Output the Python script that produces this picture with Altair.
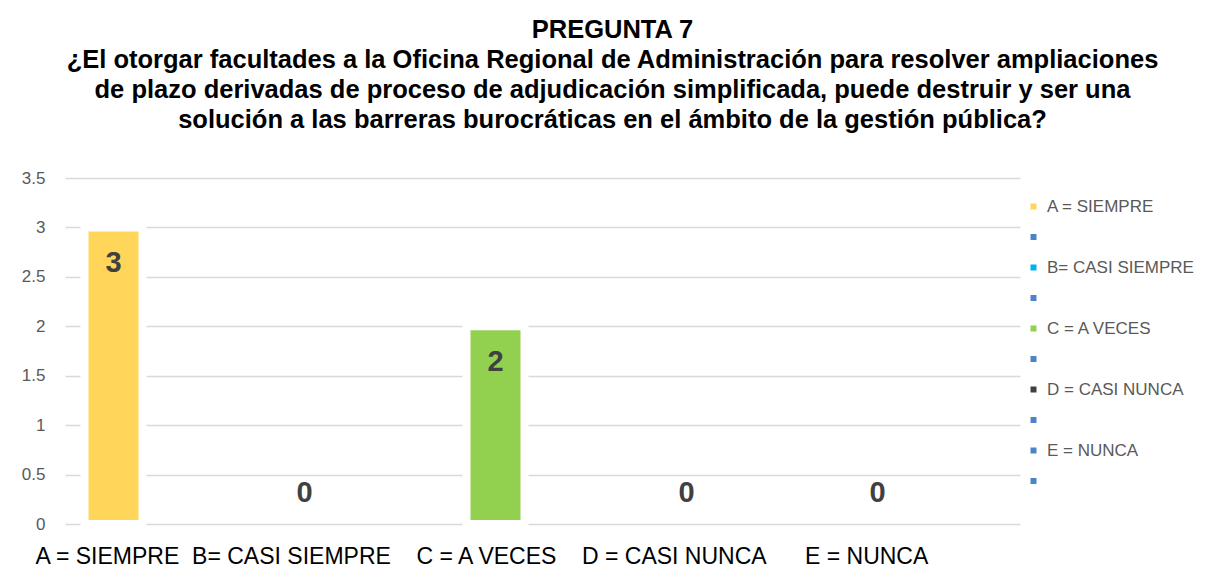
import altair as alt
import pandas as pd

categories = ["A", "B", "C", "D", "E"]
values = [3, 0, 2, 0, 0]
series = ["A = SIEMPRE", "B= CASI SIEMPRE", "C = A VECES", "D = CASI NUNCA", "E = NUNCA"]

legend_domain = ["A = SIEMPRE", "_1", "B= CASI SIEMPRE", "_2", "C = A VECES", "_3",
                 "D = CASI NUNCA", "_4", "E = NUNCA", "_5"]
legend_colors = ["#FFD55A", "#4A86C6", "#00B0F0", "#4A86C6", "#92D050", "#4A86C6",
                 "#404040", "#4A86C6", "#4A86C6", "#4A86C6"]

title_lines = [
    "PREGUNTA 7",
    "¿El otorgar facultades a la Oficina Regional de Administración para resolver ampliaciones",
    "de plazo derivadas de proceso de adjudicación simplificada, puede destruir y ser una",
    "solución a las barreras burocráticas en el ámbito de la gestión pública?",
]
NB = "\u00a0"
bottom_text = ("A = SIEMPRE" + NB * 2 + "B= CASI SIEMPRE" + NB * 4 + "C = A VECES"
               + NB * 4 + "D = CASI NUNCA" + NB * 6 + "E = NUNCA")
y_ticks = [0, 0.5, 1, 1.5, 2, 2.5, 3, 3.5]

df = pd.DataFrame({"cat": categories, "val": values, "serie": series})

x = alt.X("cat:N", sort=categories,
          scale=alt.Scale(paddingInner=0, paddingOuter=0),
          axis=alt.Axis(labels=False, ticks=False, domain=False, title=bottom_text,
                        titleX=-30, titleY=32, titleAlign="left", titleBaseline="middle",
                        titleAngle=0, titleFont="Liberation Sans", titleFontSize=23,
                        titleFontWeight="normal", titleColor="#000000"))
y = alt.Y("val:Q", scale=alt.Scale(domain=[0, 3.5]),
          axis=alt.Axis(values=y_ticks, format="~g", title=None, domain=False, ticks=False,
                        labelPadding=20, labelFont="Liberation Sans", labelFontSize=17,
                        labelColor="#595959", gridColor="#D9D9D9", gridWidth=1.5))

base = alt.Chart(df)

bars = base.mark_bar(size=58, stroke="white", strokeWidth=8, xOffset=-47).encode(
    x=x, y=y,
    color=alt.Color("serie:N",
                    scale=alt.Scale(domain=legend_domain, range=legend_colors),
                    legend=alt.Legend(title=None, orient="none", legendX=960, legendY=20,
                                      symbolType="square", symbolSize=36,
                                      symbolStrokeWidth=0,
                                      labelExpr="indexof(datum.label, '_') == 0 ? '' : datum.label",
                                      labelFont="Liberation Sans", labelFontSize=17,
                                      labelColor="#595959", rowPadding=12.5, labelOffset=5)),
).transform_filter("datum.val > 0")

labels_in = base.mark_text(dy=36, xOffset=-47, fontSize=29, font="Liberation Sans",
                           fontWeight="bold", color="#404040", baseline="middle").encode(
    x=x, y=y, text="val:Q"
).transform_filter("datum.val > 0")

labels_zero = base.mark_text(dy=-31, xOffset=-47, fontSize=29, font="Liberation Sans",
                             fontWeight="bold", color="#404040", baseline="middle").encode(
    x=x, y=y, text="val:Q"
).transform_filter("datum.val == 0")

chart = alt.layer(bars, labels_in, labels_zero).properties(
    width=955, height=346,
    autosize=alt.AutoSizeParams(type="none"),
    padding={"left": 57, "top": 170, "right": 182, "bottom": 44},
    title=alt.TitleParams(text=title_lines, fontSize=25.5, font="Liberation Sans",
                          fontWeight="bold", color="#000000", lineHeight=30,
                          anchor="middle", dx=70, offset=36),
    background="white",
).configure_view(stroke=None)

chart.save("out.html", embed_options={"renderer": "svg", "actions": False})
